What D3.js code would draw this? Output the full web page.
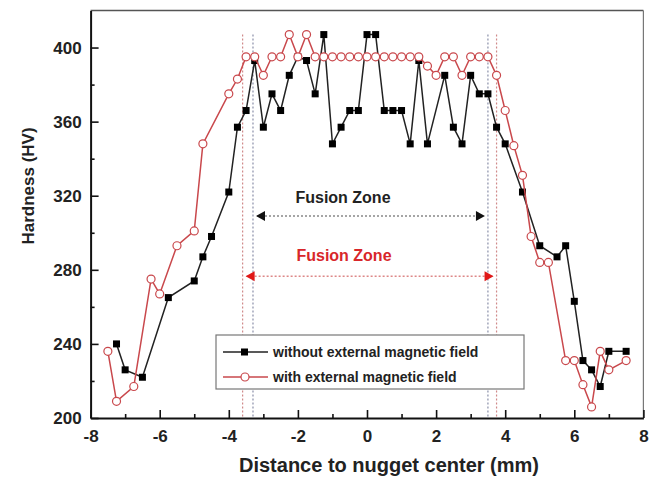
<!DOCTYPE html>
<html>
<head>
<meta charset="utf-8">
<script src="https://cdn.jsdelivr.net/npm/d3@7"></script>
<style>
  html, body { margin: 0; padding: 0; background: #fff; }
  svg { display: block; font-family: "Liberation Sans", Arial, sans-serif; }
</style>
</head>
<body>
<svg id="chart" width="653" height="478"></svg>
<script>
// ---- data ----
const blackX = [-7.25,-7,-6.5,-5.75,-5,-4.75,-4.5,-4,-3.75,-3.5,-3.25,-3,-2.75,-2.5,-2.25,-2,-1.75,-1.5,-1.25,-1,-0.75,-0.5,-0.25,0,0.25,0.5,0.75,1,1.25,1.5,1.75,2.25,2.5,2.75,3,3.25,3.5,3.75,4,4.5,5,5.5,5.75,6,6.25,6.5,6.75,7,7.5];
const blackY = [240,226,222,265,274,287,298,322,357,366,393,357,375,366,385,395,393,375,407,348,357,366,366,407,407,366,366,366,348,393,348,385,357,348,385,375,375,357,348,322,293,287,293,263,231,226,217,236,236];
const redX = [-7.5,-7.25,-6.75,-6.25,-6,-5.5,-5,-4.75,-4,-3.75,-3.5,-3.25,-3,-2.75,-2.5,-2.25,-2,-1.75,-1.5,-1.25,-1,-0.75,-0.5,-0.25,0,0.25,0.5,0.75,1,1.25,1.5,1.75,2,2.25,2.5,2.75,3,3.25,3.5,3.75,4,4.25,4.5,4.75,5,5.25,5.75,6,6.25,6.5,6.75,7,7.5];
const redY = [236,209,217,275,267,293,301,348,375,383,395,395,385,395,395,407,395,407,395,395,395,395,395,395,395,395,395,395,395,395,395,390,385,395,395,385,395,395,395,385,366,347,331,298,284,284,231,231,218,206,236,226,231];
const seriesNames = ["without external magnetic field", "with external magnetic field"];
const xTicks = [-8,-6,-4,-2,0,2,4,6,8];
const xMinorTicks = [-7,-5,-3,-1,1,3,5,7];
const yTicks = [200,240,280,320,360,400];
const yMinorTicks = [220,260,300,340,380,420];
const fzBlack = [-3.3, 3.5];   // fusion zone without field
const fzRed = [-3.6, 3.75];    // fusion zone with field
const fzLabel = "Fusion Zone";

// ---- layout ----
const svg = d3.select("#chart");
const L = 90.6, R = 643.4, T = 10.5, B = 418;
const x = d3.scaleLinear().domain([-8, 8]).range([L, R]);
const y = d3.scaleLinear().domain([200, 420]).range([B, T]);
const RED = "#c9484c";
const REDTXT = "#d8262a";

// frame
svg.append("line").attr("x1", L).attr("x2", R).attr("y1", T).attr("y2", T).attr("stroke", "#555").attr("stroke-width", 1.6);
svg.append("line").attr("x1", R).attr("x2", R).attr("y1", T).attr("y2", B).attr("stroke", "#777").attr("stroke-width", 1.2);

// axes with inward ticks
const xAxis = svg.append("g").attr("transform", `translate(0,${B})`)
  .call(d3.axisBottom(x).tickValues(xTicks).tickSizeInner(-8).tickSizeOuter(0).tickPadding(12).tickFormat(d3.format("d")));
svg.append("g").attr("transform", `translate(0,${B})`)
  .call(d3.axisBottom(x).tickValues(xMinorTicks).tickSizeInner(-4).tickSizeOuter(0).tickFormat(""))
  .select(".domain").remove();
const yAxis = svg.append("g").attr("transform", `translate(${L},0)`)
  .call(d3.axisLeft(y).tickValues(yTicks).tickSizeInner(-8).tickSizeOuter(0).tickPadding(9));
svg.append("g").attr("transform", `translate(${L},0)`)
  .call(d3.axisLeft(y).tickValues(yMinorTicks.filter(v => v < 420)).tickSizeInner(-4).tickSizeOuter(0).tickFormat(""))
  .select(".domain").remove();
svg.selectAll(".domain").attr("stroke", "#111").attr("stroke-width", 2);
svg.selectAll(".tick line").attr("stroke", "#111").attr("stroke-width", 1.6);
svg.selectAll(".tick text").attr("font-size", 17).attr("font-weight", "bold").attr("fill", "#222")
  .attr("font-family", "'Liberation Sans', Arial, sans-serif");
xAxis.selectAll(".tick text").text(d => d < 0 ? "-" + Math.abs(d) : d);
yAxis.selectAll(".tick text").attr("dy", "0.35em");

// axis titles
svg.append("text").attr("x", 389).attr("y", 472).attr("text-anchor", "middle")
  .attr("font-size", 20).attr("font-weight", "bold").attr("fill", "#222")
  .text("Distance to nugget center (mm)");
svg.append("text").attr("transform", "translate(34,186) rotate(-90)").attr("text-anchor", "middle")
  .attr("font-size", 17).attr("font-weight", "bold").attr("fill", "#222")
  .text("Hardness (HV)");

// vertical dotted boundaries
const vlines = [
  {v: fzRed[0], c: "#d08a8a"}, {v: fzBlack[0], c: "#8a8fa8"},
  {v: fzBlack[1], c: "#8a8fa8"}, {v: fzRed[1], c: "#d08a8a"}
];
svg.selectAll(".vl").data(vlines).enter().append("line")
  .attr("x1", d => x(d.v)).attr("x2", d => x(d.v))
  .attr("y1", y(407)).attr("y2", B)
  .attr("stroke", d => d.c).attr("stroke-width", 1.2).attr("stroke-dasharray", "2,2");

// fusion zone arrows
function arrow(x1, x2, yy, col, lineCol) {
  svg.append("line").attr("x1", x(x1) + 4).attr("x2", x(x2) - 4).attr("y1", yy).attr("y2", yy)
    .attr("stroke", lineCol).attr("stroke-width", 1.5).attr("stroke-dasharray", "2,2");
  const a = x(x1) + 3, b = x(x2) - 3;
  svg.append("path").attr("d", `M${a},${yy} L${a + 9},${yy - 5} L${a + 9},${yy + 5} Z`).attr("fill", col);
  svg.append("path").attr("d", `M${b},${yy} L${b - 9},${yy - 5} L${b - 9},${yy + 5} Z`).attr("fill", col);
}
arrow(fzBlack[0], fzBlack[1], y(309), "#111", "#888");
arrow(fzRed[0], fzRed[1], y(276.5), "#e01818", "#d88");
svg.append("text").attr("x", 343).attr("y", 203).attr("text-anchor", "middle")
  .attr("font-size", 16).attr("font-weight", "bold").attr("fill", "#222").text(fzLabel);
svg.append("text").attr("x", 344).attr("y", 261).attr("text-anchor", "middle")
  .attr("font-size", 16).attr("font-weight", "bold").attr("fill", REDTXT).text(fzLabel);

// series
const blackData = blackX.map((v, i) => [v, blackY[i]]);
const redData = redX.map((v, i) => [v, redY[i]]);
const line = d3.line().x(d => x(d[0])).y(d => y(d[1]));

svg.append("path").datum(blackData).attr("d", line).attr("fill", "none").attr("stroke", "#222").attr("stroke-width", 1.5);
svg.selectAll(".bsq").data(blackData).enter().append("rect")
  .attr("x", d => x(d[0]) - 3.5).attr("y", d => y(d[1]) - 3.5).attr("width", 7).attr("height", 7).attr("fill", "#000");

svg.append("path").datum(redData).attr("d", line).attr("fill", "none").attr("stroke", RED).attr("stroke-width", 1.5);
svg.selectAll(".rc").data(redData).enter().append("circle")
  .attr("cx", d => x(d[0])).attr("cy", d => y(d[1])).attr("r", 4).attr("fill", "#fff")
  .attr("stroke", RED).attr("stroke-width", 1.2);

// legend
const lg = svg.append("g");
lg.append("rect").attr("x", 216).attr("y", 335).attr("width", 308).attr("height", 54)
  .attr("fill", "#fff").attr("stroke", "#777").attr("stroke-width", 1.2);
[0, 1].forEach(i => {
  const yy = 352 + i * 25;
  const col = i === 0 ? "#222" : RED;
  lg.append("line").attr("x1", 223).attr("x2", 268).attr("y1", yy).attr("y2", yy).attr("stroke", col).attr("stroke-width", 1.5);
  if (i === 0) lg.append("rect").attr("x", 241).attr("y", yy - 3.5).attr("width", 7).attr("height", 7).attr("fill", "#000");
  else lg.append("circle").attr("cx", 245).attr("cy", yy).attr("r", 4).attr("fill", "#fff").attr("stroke", RED).attr("stroke-width", 1.2);
  lg.append("text").attr("x", 273).attr("y", yy).attr("dy", "0.35em")
    .attr("font-size", 14).attr("font-weight", "bold").attr("fill", "#222").text(seriesNames[i]);
});
</script>
</body>
</html>
